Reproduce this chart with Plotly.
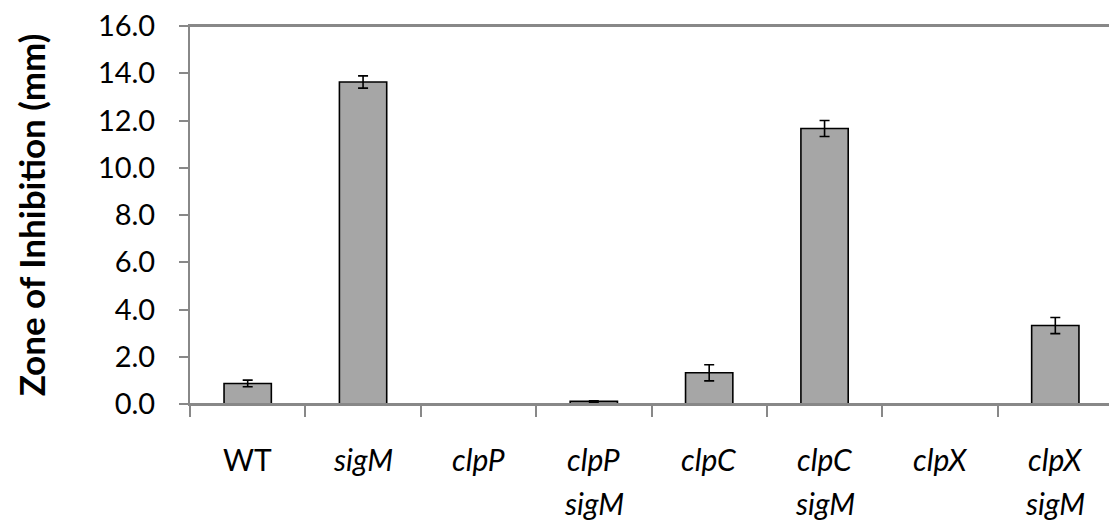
import plotly.graph_objects as go

categories = ["WT", "sigM", "clpP", "clpP sigM", "clpC", "clpC sigM", "clpX", "clpX sigM"]
label_line1 = ["WT", "<i>sigM</i>", "<i>clpP</i>", "<i>clpP</i>", "<i>clpC</i>", "<i>clpC</i>", "<i>clpX</i>", "<i>clpX</i>"]
label_line2 = ["", "", "", "<i>sigM</i>", "", "<i>sigM</i>", "", "<i>sigM</i>"]
values = [0.87, 13.63, 0.0, 0.11, 1.32, 11.66, 0.0, 3.32]
errors = [0.14, 0.26, 0.0, 0.03, 0.34, 0.34, 0.0, 0.34]
y_ticks = [0, 2, 4, 6, 8, 10, 12, 14, 16]

FONT = "Lato"
AXIS_GREY = "#888888"

# The page body has an 8px margin; size the figure so the plot sits where intended.
fig = go.Figure()
fig.add_trace(go.Bar(
    x=categories,
    y=values,
    width=0.41,
    marker=dict(color="#A6A6A6",
                line=dict(color="black", width=[1.6 if v > 0 else 0 for v in values])),
    error_y=dict(type="data", array=[e if e > 0 else float("nan") for e in errors],
                 visible=True, color="black", thickness=1.6, width=5),
))

annotations = []
for cat, l1, l2 in zip(categories, label_line1, label_line2):
    annotations.append(dict(x=cat, xref="x", y=-0.145, yref="paper", text=l1,
                            showarrow=False, xanchor="center", yanchor="middle",
                            font=dict(family=FONT, size=30, color="black")))
    if l2:
        annotations.append(dict(x=cat, xref="x", y=-0.262, yref="paper", text=l2,
                                showarrow=False, xanchor="center", yanchor="middle",
                                font=dict(family=FONT, size=30, color="black")))

# frame lines along the top and bottom of the plot area, running to the right edge
shapes = [
    dict(type="line", xref="paper", yref="paper", x0=0, x1=1.006, y0=1, y1=1,
         layer="above", line=dict(color=AXIS_GREY, width=2)),
    dict(type="line", xref="paper", yref="paper", x0=0, x1=1.006, y0=0, y1=0,
         layer="above", line=dict(color=AXIS_GREY, width=2)),
]

fig.update_layout(
    width=1109, height=519,
    margin=dict(l=182, r=4, t=18, b=123, autoexpand=False),
    paper_bgcolor="white", plot_bgcolor="white",
    showlegend=False,
    font=dict(family=FONT, color="black"),
    annotations=annotations,
    shapes=shapes,
    xaxis=dict(
        type="category",
        tickson="boundaries",
        ticks="outside", ticklen=11, tickwidth=2, tickcolor=AXIS_GREY,
        showticklabels=False,
        showline=True, linecolor=AXIS_GREY, linewidth=2,
        mirror=True,
        showgrid=False, zeroline=False,
    ),
    yaxis=dict(
        range=[0, 16],
        tickvals=y_ticks,
        tickformat=".1f",
        ticks="outside", ticklen=9, tickwidth=2, tickcolor=AXIS_GREY,
        ticklabelstandoff=18,
        ticklabeloverflow="allow",
        tickfont=dict(family=FONT, size=29, color="black"),
        showline=True, linecolor=AXIS_GREY, linewidth=2,
        showgrid=False, zeroline=False,
        title=dict(text="<b>Zone of Inhibition (mm)</b>", standoff=42,
                   font=dict(family=FONT, size=35, color="black")),
    ),
)

fig.write_html("out.html")
